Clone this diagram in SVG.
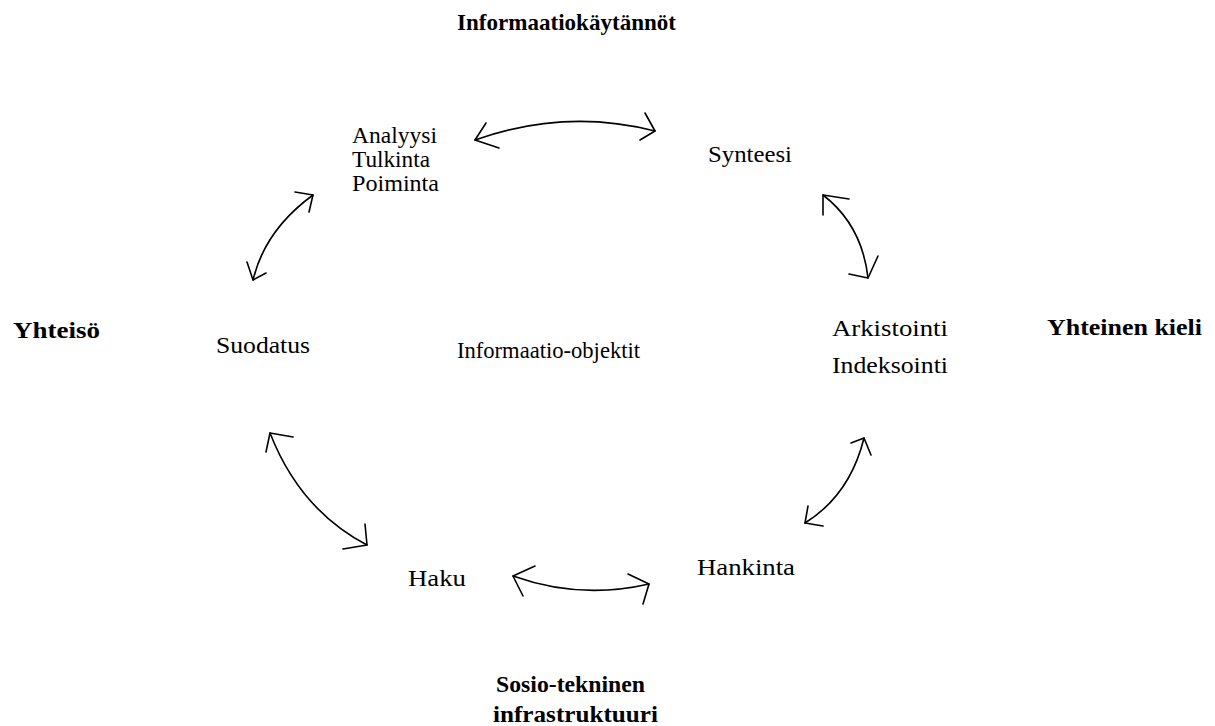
<svg xmlns="http://www.w3.org/2000/svg" width="1215" height="726" viewBox="0 0 1215 726">
<style>
.t{font-family:"Liberation Serif","Times New Roman",serif;font-size:24px;fill:#000}
.b{font-family:"Liberation Serif","Times New Roman",serif;font-size:23px;font-weight:bold;fill:#000}
.c{fill:none;stroke:#000;stroke-width:1.6;stroke-linecap:round;stroke-linejoin:round}
</style>
<rect width="1215" height="726" fill="#fff"/>
<g id="title-top"><text class="b" x="457" y="30" textLength="219" lengthAdjust="spacingAndGlyphs">Informaatiokäytännöt</text></g>
<g id="node-analyysi"><text class="t" x="352" y="143" textLength="85" lengthAdjust="spacingAndGlyphs">Analyysi</text><text class="t" x="352" y="167" textLength="78" lengthAdjust="spacingAndGlyphs">Tulkinta</text><text class="t" x="352" y="191" textLength="87" lengthAdjust="spacingAndGlyphs">Poiminta</text></g>
<g id="node-synteesi"><text class="t" x="708" y="162" textLength="84" lengthAdjust="spacingAndGlyphs">Synteesi</text></g>
<g id="label-yhteiso"><text class="b" x="13" y="338" textLength="87" lengthAdjust="spacingAndGlyphs">Yhteisö</text></g>
<g id="node-suodatus"><text class="t" x="216" y="353" textLength="94" lengthAdjust="spacingAndGlyphs">Suodatus</text></g>
<g id="node-center"><text class="t" x="457" y="358" textLength="183" lengthAdjust="spacingAndGlyphs">Informaatio-objektit</text></g>
<g id="node-arkistointi"><text class="t" x="832" y="336" textLength="116" lengthAdjust="spacingAndGlyphs">Arkistointi</text><text class="t" x="832" y="373" textLength="116" lengthAdjust="spacingAndGlyphs">Indeksointi</text></g>
<g id="label-kieli"><text class="b" x="1047" y="335" textLength="155" lengthAdjust="spacingAndGlyphs">Yhteinen kieli</text></g>
<g id="node-haku"><text class="t" x="408" y="586" textLength="58" lengthAdjust="spacingAndGlyphs">Haku</text></g>
<g id="node-hankinta"><text class="t" x="697" y="575" textLength="98" lengthAdjust="spacingAndGlyphs">Hankinta</text></g>
<g id="label-sosio"><text class="b" x="496" y="692" textLength="149" lengthAdjust="spacingAndGlyphs">Sosio-tekninen</text><text class="b" x="493" y="722" textLength="165" lengthAdjust="spacingAndGlyphs">infrastruktuuri</text></g>
<g id="connectors" class="c">
<path d="M475,140 Q565,108 655,131"/><path d="M486,123 L475,140 L499,148"/><path d="M645,113 L655,131 L640,140"/>
<path d="M823,195 Q862,225 868,278"/><path d="M849,199 L823,195 L823,215"/><path d="M878,256 L868,278 L849,274"/>
<path d="M864,438 Q850,495 805,523"/><path d="M851,443 L864,438 L871,455"/><path d="M808,506 L805,523 L823,526"/>
<path d="M513,576 Q580,600 649,584"/><path d="M535,566 L513,576 L523,596"/><path d="M628,574 L649,584 L643,604"/>
<path d="M270,433 Q300,510 367,545"/><path d="M293,437 L270,433 L266,452"/><path d="M365,524 L367,545 L343,549"/>
<path d="M313,195 Q265,230 253,280"/><path d="M295,192 L313,195 L309,212"/><path d="M247,262 L253,280 L266,273"/>
</g>
</svg>
